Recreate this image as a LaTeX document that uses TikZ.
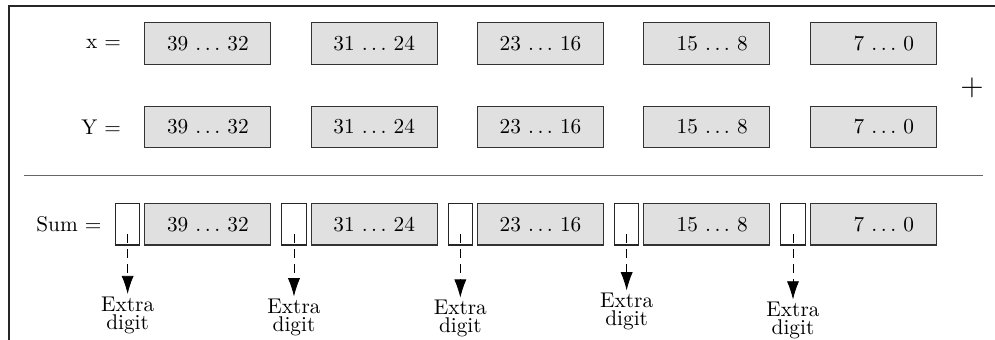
\documentclass[tikz,border=0pt]{standalone}
\usepackage{amsmath,amssymb}
\usepackage{tikz}
\usetikzlibrary{arrows.meta}
\usetikzlibrary{calc}
\usetikzlibrary{positioning}
\usepackage{xcolor}
\tikzset{
	>={Latex[length=3mm,width=2mm]},
	frame/.style={black!85, line width=0.9pt},
	rule/.style={black!60, line width=0.5pt},
	field/.style={draw=black!80, fill=black!12, line width=0.5pt, minimum width=2.08cm, minimum height=0.68cm, inner sep=0pt},
	extrabox/.style={draw=black!85, fill=white, line width=0.5pt, minimum width=0.4cm, minimum height=0.68cm, inner sep=0pt},
	rowlabel/.style={black},
	carry/.style={black, dash pattern=on 4pt off 3pt, ->},
	carrytext/.style={align=center, inner sep=1pt, font={\fontsize{10}{8.5}\selectfont}},
}

\begin{document}
\begin{tikzpicture}
	
	% Page size
	\useasboundingbox (0,0) rectangle (16.42,-5.61);
	
	% Frame (top and left edges only)
	\draw[frame] (16.42,-0.099) -- (0.149,-0.099) -- (0.149,-5.61);
	
	% First operand
	\node[field] (x39) at (3.43,-0.718) {39 $\ldots$ 32};
	\node[field] (x31) at (6.175,-0.718) {31 $\ldots$ 24};
	\node[field] (x23) at (8.92,-0.718) {23 $\ldots$ 16};
	\node[field] (x15) at (11.665,-0.718) {\phantom{1}15 $\ldots$ 8};
	\node[field] (x7) at (14.41,-0.718) {\phantom{00}7 $\ldots$ 0};
	\node[rowlabel, left=0.26cm of x39] (xlabel) {x $=$};
	
	% Second operand
	\node[field, below=0.68cm of x39] (y39) {39 $\ldots$ 32};
	\node[field, below=0.68cm of x31] (y31) {31 $\ldots$ 24};
	\node[field, below=0.68cm of x23] (y23) {23 $\ldots$ 16};
	\node[field, below=0.68cm of x15] (y15) {\phantom{1}15 $\ldots$ 8};
	\node[field, below=0.68cm of x7] (y7) {\phantom{00}7 $\ldots$ 0};
	\node[rowlabel, left=0.26cm of y39] (ylabel) {Y $=$};
	
	% Plus sign
	\node[font=\Large] (plus) at (16.04,-1.452) {$+$};
	
	% Line under the operands
	\coordinate (ruleL) at (0.396,-2.904);
	\coordinate (ruleR) at (16.22,-2.904);
	\draw[rule] (ruleL) -- (ruleR);
	
	% Sum with one extra digit per field
	\node[field, below=0.91cm of y39] (s39) {39 $\ldots$ 32};
	\node[field, below=0.91cm of y31] (s31) {31 $\ldots$ 24};
	\node[field, below=0.91cm of y23] (s23) {23 $\ldots$ 16};
	\node[field, below=0.91cm of y15] (s15) {\phantom{1}15 $\ldots$ 8};
	\node[field, below=0.91cm of y7] (s7) {\phantom{00}7 $\ldots$ 0};
	\node[extrabox, left=0.066cm of s39] (e39) {};
	\node[extrabox, left=0.066cm of s31] (e31) {};
	\node[extrabox, left=0.066cm of s23] (e23) {};
	\node[extrabox, left=0.066cm of s15] (e15) {};
	\node[extrabox, left=0.066cm of s7] (e7) {};
	\node[rowlabel, left=0.1cm of e39] (slabel) {Sum $=$};
	
	% Extra digits
	\node[carrytext, below=0.80cm of e39] (t39) {Extra\\digit};
	\node[carrytext, below=0.84cm of e31] (t31) {Extra\\digit};
	\node[carrytext, below=0.86cm of e23] (t23) {Extra\\digit};
	\node[carrytext, below=0.74cm of e15] (t15) {Extra\\digit};
	\node[carrytext, below=0.89cm of e7] (t7) {Extra\\digit};
	\coordinate (c39) at ($(e39.center)+(0,-0.165)$);
	\coordinate (c31) at ($(e31.center)+(0,-0.165)$);
	\coordinate (c23) at ($(e23.center)+(0,-0.165)$);
	\coordinate (c15) at ($(e15.center)+(0,-0.165)$);
	\coordinate (c7) at ($(e7.center)+(0,-0.165)$);
	\draw[carry] (c39) -- (t39.north);
	\draw[carry] (c31) -- (t31.north);
	\draw[carry] (c23) -- (t23.north);
	\draw[carry] (c15) -- (t15.north);
	\draw[carry] (c7) -- (t7.north);
	
\end{tikzpicture}
\end{document}
